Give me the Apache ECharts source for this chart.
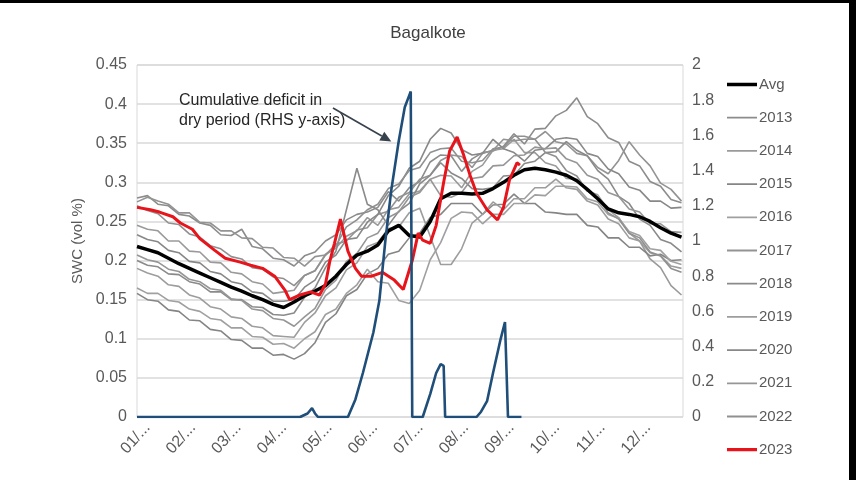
<!DOCTYPE html>
<html>
<head>
<meta charset="utf-8">
<script src="https://cdn.jsdelivr.net/npm/echarts@6/dist/echarts.min.js"></script>
<style>
html, body { margin: 0; padding: 0; background: #000; width: 856px; height: 480px; overflow: hidden; }
#chart { position: absolute; left: 0; top: 3px; width: 849px; height: 477px; background: #fff; }
</style>
</head>
<body>
<div id="chart"></div>
<script>
// Soil water content (vol %) at Bagalkote, day of year on the x axis.
const monthLabels = ['01/...', '02/...', '03/...', '04/...', '05/...', '06/...',
                     '07/...', '08/...', '09/...', '10/...', '11/...', '12/...'];

// Weekly sampling days shared by the yearly series and the average.
const weekDays = [0, 7, 14, 21, 28, 35, 42, 49, 56, 63, 70, 77, 84,
                  91, 98, 105, 112, 119, 126, 133, 140, 147, 154, 161, 168, 175,
                  182, 189, 196, 203, 210, 217, 224, 231, 238, 245, 252, 259, 266,
                  273, 280, 287, 294, 301, 308, 315, 322, 329, 336, 343, 350, 357, 364];

const avgSWC = [0.218, 0.214, 0.210, 0.203, 0.196, 0.190, 0.184, 0.178, 0.172, 0.166, 0.161, 0.155, 0.150,
                0.144, 0.140, 0.147, 0.155, 0.161, 0.168, 0.180, 0.195, 0.207, 0.212, 0.220, 0.238, 0.245,
                0.232, 0.230, 0.250, 0.279, 0.286, 0.286, 0.285, 0.286, 0.292, 0.300, 0.309, 0.316, 0.318,
                0.316, 0.313, 0.309, 0.302, 0.291, 0.279, 0.266, 0.261, 0.259, 0.256, 0.250, 0.242, 0.235, 0.230];

const swc2013 = [0.280, 0.283, 0.272, 0.270, 0.259, 0.257, 0.248, 0.245, 0.233, 0.232, 0.240, 0.218, 0.215,
                 0.203, 0.201, 0.193, 0.206, 0.211, 0.225, 0.233, 0.252, 0.259, 0.262, 0.268, 0.288, 0.276,
                 0.293, 0.301, 0.326, 0.335, 0.334, 0.314, 0.330, 0.338, 0.340, 0.346, 0.362, 0.349, 0.368,
                 0.369, 0.385, 0.392, 0.408, 0.384, 0.375, 0.357, 0.351, 0.327, 0.321, 0.301, 0.295, 0.278, 0.274];
const swc2014 = [0.245, 0.240, 0.238, 0.225, 0.225, 0.212, 0.211, 0.198, 0.197, 0.185, 0.183, 0.173, 0.170,
                 0.158, 0.160, 0.162, 0.181, 0.187, 0.208, 0.216, 0.231, 0.238, 0.255, 0.245, 0.265, 0.268,
                 0.285, 0.289, 0.304, 0.309, 0.308, 0.293, 0.314, 0.322, 0.341, 0.343, 0.355, 0.338, 0.338,
                 0.325, 0.321, 0.305, 0.304, 0.289, 0.284, 0.265, 0.255, 0.235, 0.225, 0.202, 0.191, 0.168, 0.156];
const swc2015 = [0.158, 0.150, 0.148, 0.137, 0.135, 0.124, 0.123, 0.112, 0.110, 0.099, 0.098, 0.088, 0.088,
                 0.079, 0.080, 0.074, 0.081, 0.095, 0.121, 0.132, 0.155, 0.163, 0.183, 0.190, 0.208, 0.212,
                 0.229, 0.235, 0.255, 0.259, 0.273, 0.273, 0.273, 0.259, 0.271, 0.272, 0.285, 0.273, 0.273,
                 0.262, 0.261, 0.259, 0.259, 0.245, 0.243, 0.229, 0.229, 0.217, 0.217, 0.206, 0.208, 0.200, 0.201];
const swc2016 = [0.165, 0.158, 0.158, 0.149, 0.147, 0.138, 0.135, 0.126, 0.124, 0.114, 0.114, 0.103, 0.102,
                 0.093, 0.094, 0.088, 0.100, 0.109, 0.131, 0.138, 0.158, 0.169, 0.189, 0.173, 0.171, 0.149,
                 0.145, 0.162, 0.201, 0.223, 0.254, 0.262, 0.261, 0.247, 0.259, 0.259, 0.273, 0.273, 0.284,
                 0.283, 0.295, 0.295, 0.294, 0.279, 0.275, 0.259, 0.254, 0.237, 0.232, 0.215, 0.213, 0.199, 0.195];
const swc2017 = [0.275, 0.281, 0.276, 0.272, 0.261, 0.261, 0.249, 0.248, 0.238, 0.238, 0.229, 0.228, 0.217,
                 0.216, 0.204, 0.203, 0.193, 0.205, 0.207, 0.221, 0.225, 0.239, 0.242, 0.259, 0.263, 0.281,
                 0.287, 0.304, 0.309, 0.328, 0.335, 0.333, 0.319, 0.337, 0.341, 0.355, 0.353, 0.355, 0.355,
                 0.365, 0.352, 0.349, 0.337, 0.334, 0.319, 0.311, 0.328, 0.352, 0.335, 0.321, 0.299, 0.291, 0.276];
const swc2018 = [0.200, 0.194, 0.192, 0.183, 0.182, 0.173, 0.170, 0.160, 0.160, 0.150, 0.150, 0.141, 0.140,
                 0.131, 0.130, 0.133, 0.153, 0.165, 0.191, 0.212, 0.265, 0.318, 0.272, 0.265, 0.245, 0.263,
                 0.273, 0.298, 0.309, 0.325, 0.312, 0.305, 0.292, 0.291, 0.293, 0.308, 0.309, 0.324, 0.327,
                 0.338, 0.339, 0.352, 0.341, 0.334, 0.315, 0.304, 0.282, 0.273, 0.253, 0.245, 0.227, 0.222, 0.211];
const swc2019 = [0.190, 0.184, 0.180, 0.169, 0.167, 0.156, 0.152, 0.141, 0.138, 0.128, 0.126, 0.116, 0.114,
                 0.104, 0.103, 0.102, 0.121, 0.133, 0.155, 0.165, 0.188, 0.197, 0.218, 0.223, 0.241, 0.243,
                 0.261, 0.267, 0.231, 0.195, 0.195, 0.215, 0.248, 0.259, 0.275, 0.265, 0.279, 0.279, 0.293,
                 0.293, 0.304, 0.293, 0.291, 0.276, 0.271, 0.253, 0.247, 0.229, 0.225, 0.210, 0.206, 0.193, 0.190];
const swc2020 = [0.233, 0.227, 0.224, 0.213, 0.210, 0.199, 0.197, 0.186, 0.183, 0.173, 0.170, 0.160, 0.158,
                 0.148, 0.148, 0.150, 0.166, 0.175, 0.198, 0.207, 0.227, 0.229, 0.249, 0.259, 0.283, 0.295,
                 0.318, 0.327, 0.355, 0.369, 0.363, 0.342, 0.335, 0.337, 0.355, 0.343, 0.338, 0.327, 0.341,
                 0.343, 0.355, 0.357, 0.355, 0.337, 0.333, 0.317, 0.311, 0.294, 0.290, 0.276, 0.276, 0.267, 0.268];
const swc2021 = [0.207, 0.201, 0.198, 0.189, 0.186, 0.176, 0.173, 0.164, 0.162, 0.151, 0.149, 0.138, 0.136,
                 0.126, 0.124, 0.116, 0.128, 0.139, 0.163, 0.175, 0.199, 0.209, 0.229, 0.235, 0.255, 0.262,
                 0.281, 0.287, 0.304, 0.283, 0.281, 0.287, 0.305, 0.307, 0.321, 0.322, 0.334, 0.335, 0.345,
                 0.343, 0.344, 0.330, 0.325, 0.309, 0.304, 0.287, 0.282, 0.266, 0.262, 0.247, 0.247, 0.237, 0.236];
const swc2022 = [0.270, 0.264, 0.260, 0.248, 0.246, 0.234, 0.230, 0.219, 0.215, 0.205, 0.202, 0.191, 0.189,
                 0.179, 0.177, 0.168, 0.181, 0.187, 0.207, 0.219, 0.243, 0.252, 0.265, 0.272, 0.292, 0.298,
                 0.315, 0.319, 0.338, 0.343, 0.344, 0.327, 0.325, 0.328, 0.343, 0.345, 0.359, 0.359, 0.355,
                 0.338, 0.333, 0.315, 0.308, 0.289, 0.281, 0.261, 0.253, 0.235, 0.229, 0.211, 0.206, 0.190, 0.185];

// 2023 is sampled more densely where it swings.
const days2023 = [0, 9, 15, 24, 29, 37, 42, 52, 59, 69, 76, 84, 92, 99, 102, 109, 116, 122, 126, 129,
                  132, 136, 141, 146, 150, 157, 164, 172, 178, 184, 188, 191, 196, 200, 205, 209, 214,
                  218, 223, 227, 234, 241, 245, 249, 254, 256];
const swc2023 = [0.268, 0.265, 0.262, 0.256, 0.248, 0.240, 0.228, 0.213, 0.203, 0.198, 0.194, 0.190, 0.180,
                 0.162, 0.150, 0.156, 0.160, 0.156, 0.170, 0.200, 0.222, 0.253, 0.212, 0.190, 0.180, 0.180,
                 0.185, 0.175, 0.163, 0.200, 0.235, 0.226, 0.222, 0.245, 0.300, 0.340, 0.358, 0.337, 0.307,
                 0.286, 0.265, 0.252, 0.268, 0.303, 0.325, 0.322];

// Cumulative deficit in the dry period (right-hand axis).
const deficitDays = [0, 109, 114, 117, 119, 121, 141, 146, 151, 158, 162, 166, 170, 175, 179, 183, 184,
                     191, 196, 200, 203, 205, 206, 227, 230, 234, 238, 243, 246, 247, 248, 257];
const deficit = [0, 0, 0.02, 0.05, 0.02, 0, 0, 0.1, 0.25, 0.48, 0.66, 1.0, 1.29, 1.57, 1.76, 1.85, 0,
                 0, 0.13, 0.25, 0.30, 0.29, 0, 0, 0.03, 0.09, 0.25, 0.44, 0.54, 0.55, 0, 0];

const yearNames = ['2013', '2014', '2015', '2016', '2017', '2018', '2019', '2020', '2021', '2022'];
const yearSWC = [swc2013, swc2014, swc2015, swc2016, swc2017, swc2018, swc2019, swc2020, swc2021, swc2022];
const yearColors = ['#8c8c8c', '#9a9a9a', '#858585', '#a0a0a0', '#939393',
                    '#8a8a8a', '#9d9d9d', '#888888', '#969696', '#909090'];

const pairs = (xs, ys) => ys.map((v, i) => [xs[i], v]);
const monthLen = 365 / 12;
const labelShift = 7;          // date labels sit a little right of the month start
const labelDays = monthLabels.map((_, k) => k * monthLen + labelShift);
const grey = '#595959';
const font = 'Liberation Sans, Arial, sans-serif';

// Legend keys: a horizontal bar inside a 30x14 box (corner dots fix the box size).
const legendBar = t => 'path://M0,0h0.01v0.01h-0.01z M29.99,13.99h0.01v0.01h-0.01z M0,' +
  (7 - t / 2) + 'h30v' + t + 'h-30z';

const series = [];
yearNames.forEach((name, k) => {
  series.push({
    name, type: 'line', yAxisIndex: 0, symbol: 'none', z: 2,
    lineStyle: { color: yearColors[k], width: 1.6 },
    itemStyle: { color: yearColors[k] },
    data: pairs(weekDays, yearSWC[k])
  });
});
series.push({
  name: 'Avg', type: 'line', yAxisIndex: 0, symbol: 'none', z: 3,
  lineStyle: { color: '#000', width: 3.5 }, itemStyle: { color: '#000' },
  data: pairs(weekDays, avgSWC)
});
series.push({
  name: '2023', type: 'line', yAxisIndex: 0, symbol: 'none', z: 4,
  lineStyle: { color: '#e8141b', width: 3 }, itemStyle: { color: '#e8141b' },
  data: pairs(days2023, swc2023)
});
series.push({
  name: 'Deficit', type: 'line', yAxisIndex: 1, symbol: 'none', z: 5,
  lineStyle: { color: '#1f4e79', width: 2.6 }, itemStyle: { color: '#1f4e79' },
  data: pairs(deficitDays, deficit)
});

const legendData = [{ name: 'Avg', icon: legendBar(3.5) }]
  .concat(yearNames.map(n => ({ name: n, icon: legendBar(1.8) })))
  .concat([{ name: '2023', icon: legendBar(3.2) }]);

const chart = echarts.init(document.getElementById('chart'), null, { renderer: 'canvas' });
chart.setOption({
  animation: false,
  backgroundColor: '#fff',
  title: {
    text: 'Bagalkote', left: 423, top: 17, textAlign: 'center',
    textStyle: { fontFamily: font, fontSize: 17, fontWeight: 'normal', color: '#404040' }
  },
  legend: {
    orient: 'vertical', left: 727, top: 74, padding: 0,
    itemWidth: 30, itemHeight: 14, itemGap: 18.2,
    data: legendData,
    textStyle: { fontFamily: font, fontSize: 15, color: grey, padding: [4, 0, 0, -3] }
  },
  grid: {
    left: 137, right: 166, top: 62, bottom: 63,
    show: true, borderColor: '#d9d9d9', borderWidth: 1
  },
  xAxis: {
    type: 'value', min: 0, max: 365, interval: monthLen,
    axisLine: { show: false }, axisTick: { show: false }, splitLine: { show: false },
    axisLabel: {
      customValues: labelDays,
      rotate: 48, margin: 8, fontFamily: font, fontSize: 16, color: grey,
      formatter: v => {
        const k = labelDays.findIndex(d => Math.abs(d - v) < 0.5);
        return k >= 0 ? monthLabels[k] : '';
      }
    }
  },
  yAxis: [{
    type: 'value', min: 0, max: 0.45, interval: 0.05, position: 'left',
    name: 'SWC (vol %)', nameLocation: 'middle', nameGap: 40, nameRotate: 90,
    nameTextStyle: { fontFamily: font, fontSize: 15, color: grey },
    axisLine: { show: false }, axisTick: { show: false },
    splitLine: { lineStyle: { color: '#d9d9d9', width: 1.5 } },
    axisLabel: { margin: 10, fontFamily: font, fontSize: 16, color: grey,
                 formatter: v => String(+v.toFixed(2)) }
  }, {
    type: 'value', min: 0, max: 2, interval: 0.2, position: 'right',
    axisLine: { show: false }, axisTick: { show: false }, splitLine: { show: false },
    axisLabel: { margin: 9, fontFamily: font, fontSize: 16, color: grey,
                 formatter: v => String(+v.toFixed(1)) }
  }],
  series
});

// Callout for the deficit curve: text plus an arrow pointing at its rising limb.
const arrowFrom = [131, 1.756];
const arrowTo = [170, 1.565];
const p0 = chart.convertToPixel({ xAxisIndex: 0, yAxisIndex: 1 }, arrowFrom);
const p1 = chart.convertToPixel({ xAxisIndex: 0, yAxisIndex: 1 }, arrowTo);
const dx = p1[0] - p0[0], dy = p1[1] - p0[1];
const len = Math.hypot(dx, dy), ux = dx / len, uy = dy / len;
const head = 11, half = 5;
const base = [p1[0] - ux * head, p1[1] - uy * head];
chart.setOption({
  graphic: [
    { type: 'text', left: 179, top: 88,
      style: { text: 'Cumulative deficit in\ndry period (RHS y-axis)', fontFamily: font,
               fontSize: 16, lineHeight: 20, fill: '#262626' } },
    { type: 'line', shape: { x1: p0[0], y1: p0[1], x2: base[0], y2: base[1] },
      style: { stroke: '#37424d', lineWidth: 1.6 } },
    { type: 'polygon', shape: { points: [p1,
        [base[0] - uy * half, base[1] + ux * half],
        [base[0] + uy * half, base[1] - ux * half]] },
      style: { fill: '#37424d' } }
  ]
});
</script>
</body>
</html>
